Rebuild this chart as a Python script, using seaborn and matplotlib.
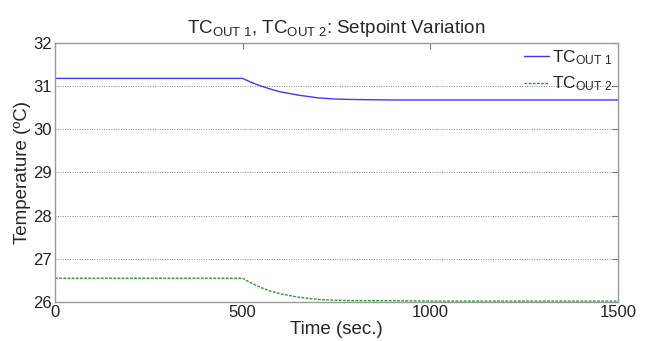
import numpy as np
import pandas as pd
import matplotlib
matplotlib.use("Agg")
import matplotlib.pyplot as plt
import seaborn as sns

time = [0, 500, 510, 525, 550, 575, 600, 650, 700, 750, 800, 900, 1000, 1500]
tc_out1 = [31.18, 31.18, 31.14, 31.08, 31.00, 30.93, 30.87, 30.79, 30.73, 30.70, 30.69, 30.68, 30.68, 30.68]
tc_out2 = [26.55, 26.55, 26.50, 26.43, 26.33, 26.25, 26.19, 26.11, 26.06, 26.04, 26.03, 26.03, 26.02, 26.02]
series_names = [r"TC$_{\mathrm{OUT\ 1}}$", r"TC$_{\mathrm{OUT\ 2}}$"]

sns.set_style("white")
plt.rcParams["font.family"] = ["Liberation Sans", "DejaVu Sans"]
plt.rcParams["mathtext.fontset"] = "custom"
plt.rcParams["mathtext.rm"] = "Liberation Sans"
plt.rcParams["mathtext.it"] = "Liberation Sans:italic"
plt.rcParams["mathtext.bf"] = "Liberation Sans:bold"

df = pd.DataFrame({
    "time": time * 2,
    "temp": tc_out1 + tc_out2,
    "series": [series_names[0]] * len(time) + [series_names[1]] * len(time),
})

fig = plt.figure(figsize=(6.46, 3.41), dpi=100)
ax = fig.add_axes([0.0851, 0.1144, 0.8715, 0.7595])

sns.lineplot(data=df[df.series == series_names[0]], x="time", y="temp", ax=ax,
             color="#3b3bff", lw=1.0, label=series_names[0])
sns.lineplot(data=df[df.series == series_names[1]], x="time", y="temp", ax=ax,
             color="#2a9a2a", lw=1.0, linestyle=(0, (2, 1)), label=series_names[1])

ax.set_xlim(0, 1500)
ax.set_ylim(26, 32)
ax.set_xticks([0, 500, 1000, 1500])
ax.set_yticks([26, 27, 28, 29, 30, 31, 32])
ax.yaxis.grid(True, color="#888888", linestyle=(0, (1, 1.5)), lw=0.7)
ax.xaxis.grid(False)
ax.tick_params(direction="in", length=4, top=True, right=True, labelsize=12,
               color="#777777", pad=2, labelcolor="#222222")
for s in ax.spines.values():
    s.set_color("#999999")
    s.set_linewidth(1.0)

ax.set_xlabel("Time (sec.)", fontsize=13.5, labelpad=1)
ax.set_ylabel("Temperature (ºC)", fontsize=13.5, labelpad=2)
ax.set_title(r"TC$_{\mathrm{OUT\ 1}}$, TC$_{\mathrm{OUT\ 2}}$: Setpoint Variation",
             fontsize=13.5, pad=7)

leg = ax.legend(loc="upper right", frameon=False, fontsize=12.5, handlelength=1.4,
                handletextpad=0.2, borderaxespad=0.0, labelspacing=0.45,
                borderpad=0.3)

fig.savefig("out.png", dpi=100)
